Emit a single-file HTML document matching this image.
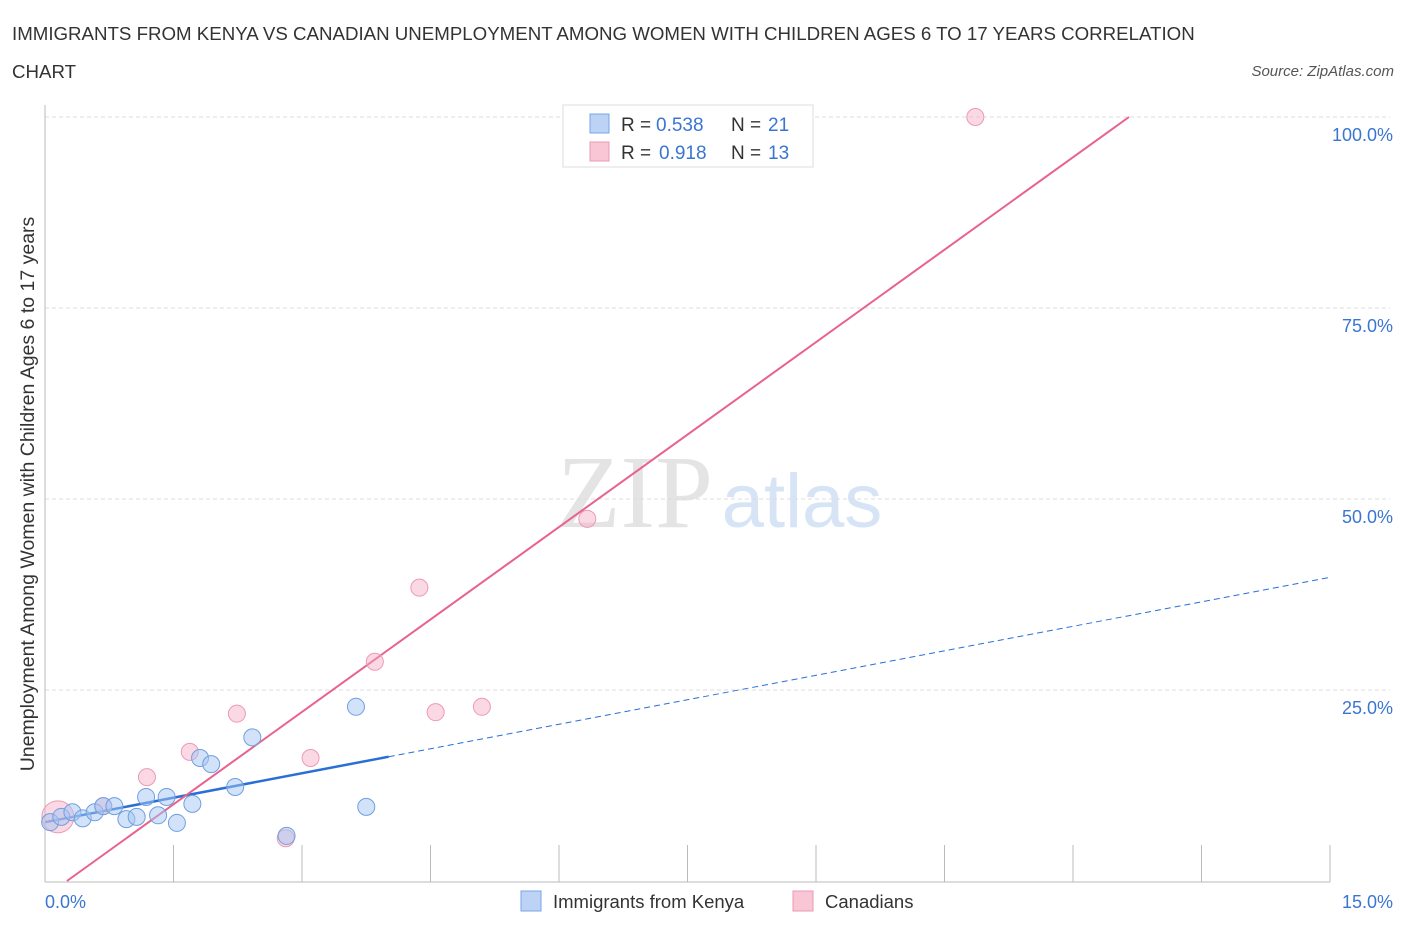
<!DOCTYPE html>
<html><head><meta charset="utf-8"><style>
body{margin:0;background:#fff;font-family:"Liberation Sans",sans-serif;}
</style></head><body>
<svg width="1406" height="930" xmlns="http://www.w3.org/2000/svg">
<text x="12" y="40" font-size="18.7" fill="#333">IMMIGRANTS FROM KENYA VS CANADIAN UNEMPLOYMENT AMONG WOMEN WITH CHILDREN AGES 6 TO 17 YEARS CORRELATION</text>
<text x="12" y="78" font-size="18.7" fill="#333">CHART</text>
<text x="1394" y="76" font-size="15" font-style="italic" fill="#555" text-anchor="end">Source: ZipAtlas.com</text>
<text x="635" y="527" font-size="104" font-family="Liberation Serif,serif" fill="#e4e4e4" text-anchor="middle">ZIP</text>
<text x="802" y="527" font-size="76" fill="#d6e4f5" text-anchor="middle">atlas</text>
<g id="grid"></g>
<g id="axes"></g>
<g id="marks"></g>
<text transform="translate(34,494) rotate(-90)" font-size="19.5" fill="#333" text-anchor="middle">Unemployment Among Women with Children Ages 6 to 17 years</text>
<text x="45" y="908" font-size="18" fill="#3a76d1">0.0%</text>
<text x="1393" y="908" font-size="18" fill="#3a76d1" text-anchor="end">15.0%</text>
<g>
<rect x="563" y="105" width="250" height="62" fill="#fff" stroke="#ddd"/>
<rect x="590" y="114" width="19" height="19" fill="#bcd3f5" stroke="#7aa6e6"/>
<rect x="590" y="142" width="19" height="19" fill="#f9c6d6" stroke="#eb9ab4"/>
<text x="621" y="131" font-size="19" fill="#333">R =</text>
<text x="656" y="131" font-size="19" fill="#3a76d1">0.538</text>
<text x="731" y="131" font-size="19" fill="#333">N =</text>
<text x="768" y="131" font-size="19" fill="#3a76d1">21</text>
<text x="621" y="159" font-size="19" fill="#333">R =</text>
<text x="659" y="159" font-size="19" fill="#3a76d1">0.918</text>
<text x="731" y="159" font-size="19" fill="#333">N =</text>
<text x="768" y="159" font-size="19" fill="#3a76d1">13</text>
</g>
<g>
<rect x="521" y="891" width="20" height="20" fill="#bcd3f5" stroke="#7aa6e6"/>
<text x="553" y="908" font-size="18.5" fill="#333">Immigrants from Kenya</text>
<rect x="793" y="891" width="20" height="20" fill="#f9c6d6" stroke="#eb9ab4"/>
<text x="825" y="908" font-size="18.5" fill="#333">Canadians</text>
</g>
</svg>
<script>
const yTicks=[25,50,75,100];
const yTickLabels=["25.0%","50.0%","75.0%","100.0%"];
const blueX=[0.06,0.19,0.32,0.44,0.58,0.68,0.81,0.95,1.07,1.18,1.32,1.42,1.54,1.72,1.81,1.94,2.22,2.42,2.82,3.63,3.75];
const blueY=[7.7,8.4,9.0,8.2,9.0,9.8,9.8,8.1,8.4,11.0,8.6,11.0,7.6,10.1,16.1,15.3,12.3,18.8,5.9,22.8,9.7];
const pinkX=[0.15,0.68,1.19,1.69,2.24,2.81,3.10,3.85,4.37,4.56,5.10,6.33,10.86];
const pinkY=[8.4,9.8,13.6,16.9,21.9,5.6,16.1,28.7,38.4,22.1,22.8,47.4,100];
const pinkR=[16,8.5,8.5,8.5,8.5,8.5,8.5,8.5,8.5,8.5,8.5,8.5,8.5];
const NS="http://www.w3.org/2000/svg";
const sx=v=>45+v/15*1285, sy=v=>881-v/100*764;
function mk(t,a,p){const e=document.createElementNS(NS,t);for(const k in a)e.setAttribute(k,a[k]);document.getElementById(p).appendChild(e);return e;}
yTicks.forEach((t,i)=>{
 const l=mk('line',{x1:45,x2:1390,y1:sy(t),y2:sy(t),stroke:'#ddd','stroke-dasharray':'4,3'},'grid');
 
 
 const tx=mk('text',{x:1393,y:sy(t)+24,'font-size':18,fill:'#3a76d1','text-anchor':'end'},'grid');
 tx.textContent=yTickLabels[i];
 
 
});
const ax=mk('line',{x1:45,x2:45,y1:105,y2:882,stroke:'#bbb'},'axes');


const bx=mk('line',{x1:45,x2:1330,y1:882,y2:882,stroke:'#bbb'},'axes');


for(let i=1;i<=10;i++){const t=mk('line',{x1:sx(i*1.5),x2:sx(i*1.5),y1:845,y2:882,stroke:'#bbb'},'axes');
 
 }
function fit(X,Y){const n=X.length;let mx=0,my=0;X.forEach((v,i)=>{mx+=v;my+=Y[i];});mx/=n;my/=n;let a=0,b=0;X.forEach((v,i)=>{a+=(v-mx)*(Y[i]-my);b+=(v-mx)**2;});const s=a/b;return [s,my-s*mx];}
const [bs,bi]=fit(blueX,blueY);
const bmax=Math.max(...blueX)*1.07;
let l1=mk('line',{x1:sx(0),y1:sy(bi),x2:sx(bmax),y2:sy(bi+bs*bmax),stroke:'#2a6fd6','stroke-width':2.5},'marks');


let l2=mk('line',{x1:sx(bmax),y1:sy(bi+bs*bmax),x2:sx(15),y2:sy(bi+bs*15),stroke:'#2a6fd6','stroke-width':1,'stroke-dasharray':'6,4'},'marks');


const [ps,pi]=fit(pinkX,pinkY);
const x0=-pi/ps, x1=(100-pi)/ps;
let l3=mk('line',{x1:sx(x0),y1:sy(0),x2:sx(x1),y2:sy(100),stroke:'#e8628e','stroke-width':2},'marks');


pinkX.forEach((x,i)=>{const c=mk('circle',{cx:sx(x),cy:sy(pinkY[i]),r:pinkR[i],fill:'rgba(246,170,195,0.45)',stroke:'#ec9ab5','stroke-width':1},'marks');
 
 });
blueX.forEach((x,i)=>{const c=mk('circle',{cx:sx(x),cy:sy(blueY[i]),r:8.5,fill:'rgba(165,198,242,0.5)',stroke:'#6f9fe0','stroke-width':1},'marks');
 
 });
</script>
</body></html>
